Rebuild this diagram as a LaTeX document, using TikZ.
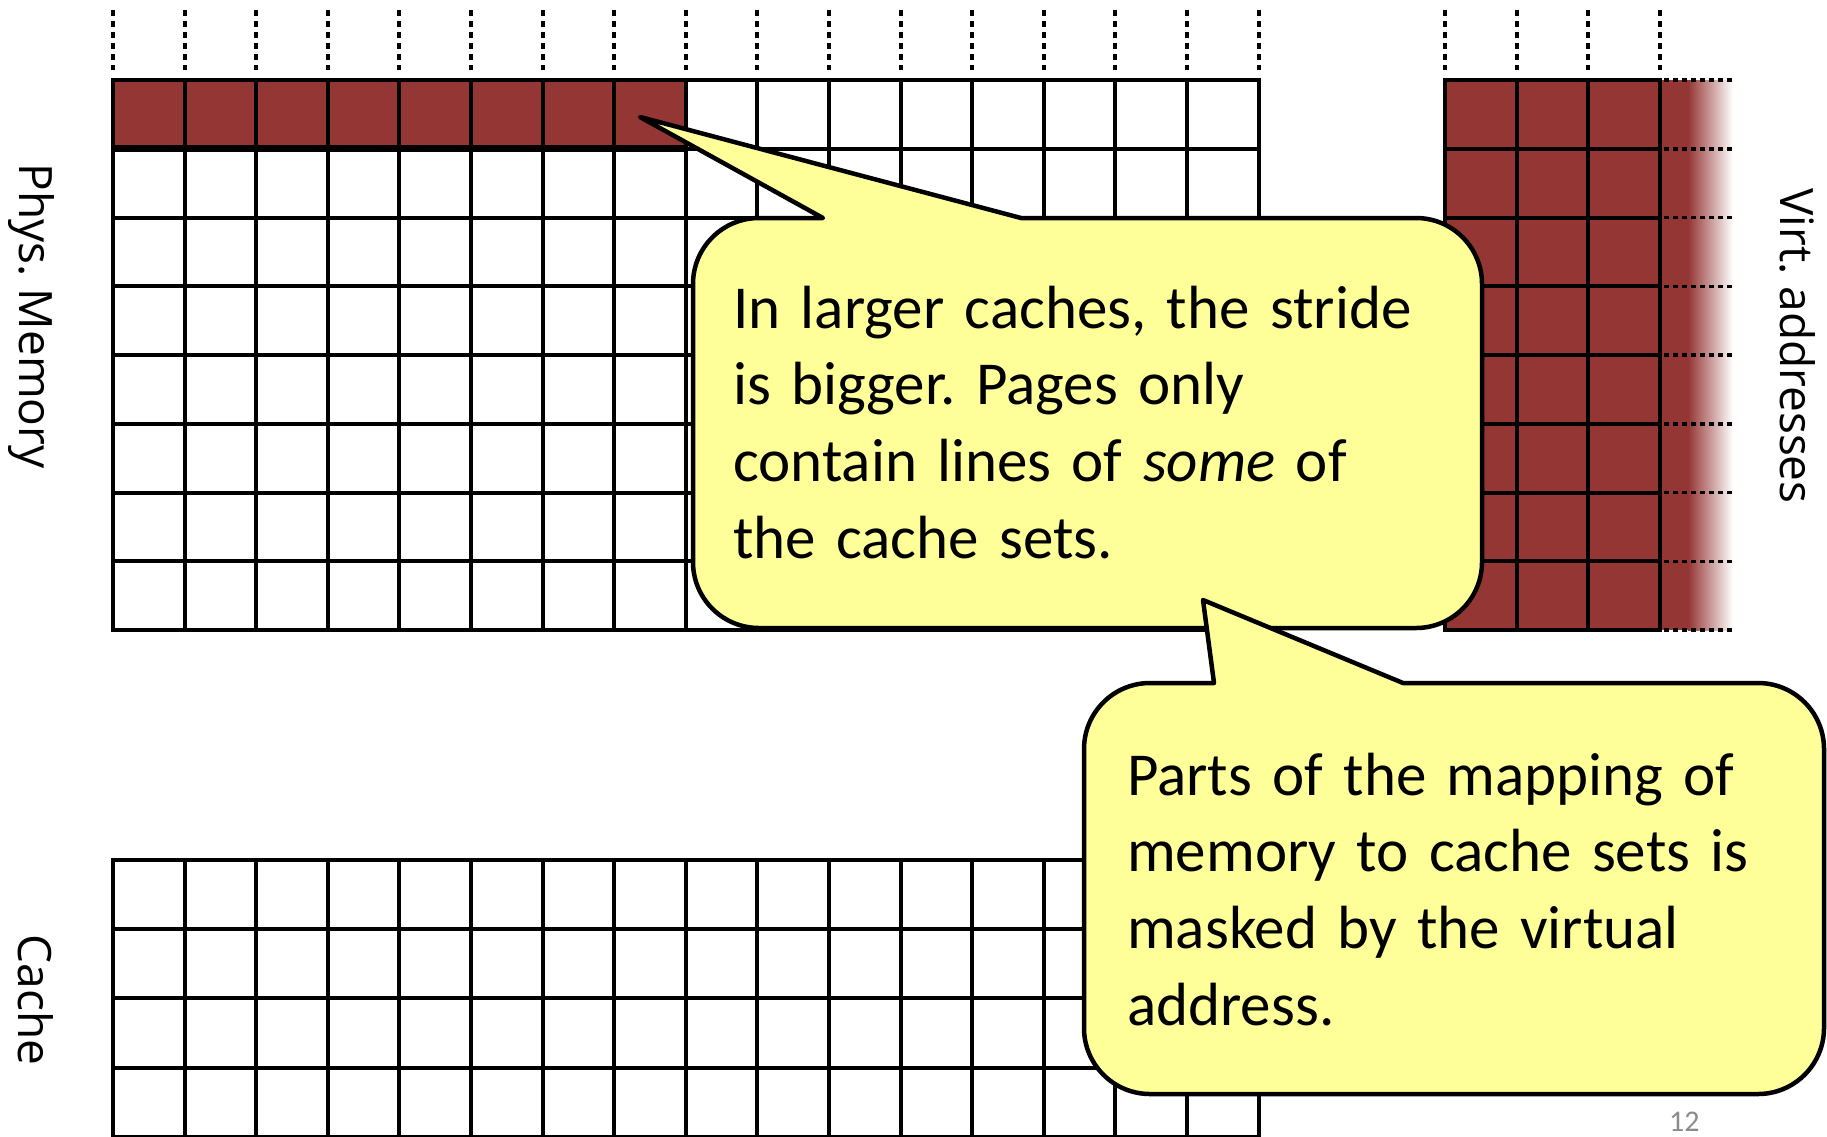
\documentclass[tikz,border=0pt]{standalone}
\usepackage{fontspec}
\setmainfont{Carlito}
\newfontfamily\labelfont{Open Sans}
\definecolor{cellred}{HTML}{943634}
\definecolor{calloutyellow}{HTML}{FFFF99}
\definecolor{pagegray}{HTML}{8C8C8C}
\frenchspacing
\tikzset{
  gridline/.style={line width=4pt, draw=black, line cap=rect},
  vdots/.style={line width=4pt, draw=black, dash pattern=on 6pt off 5pt},
  hdots/.style={line width=3.5pt, draw=black, dash pattern=on 5pt off 4pt},
  callout/.style={fill=calloutyellow, draw=black, line width=4.5pt, line join=round},
  ctext/.style={font=\fontsize{61}{76.7}\selectfont, text width=820pt, align=left, inner sep=0pt, anchor=base west},
  sidelabel/.style={font=\labelfont\fontsize{46}{55}\selectfont, rotate=-90, inner sep=0pt},
}
\begin{document}
\begin{tikzpicture}[x=1pt,y=-1pt]
\useasboundingbox (0,0) rectangle (1827,1136);
\fill[white] (0,0) rectangle (1827,1136);

% ---- physical memory grid ----
\fill[cellred] (113,80) rectangle (685.8,148.75);
\foreach \i in {0,...,16} \draw[gridline] ({113+\i*71.6},80) -- ({113+\i*71.6},630);
\foreach \j in {0,...,8} \draw[gridline] (113,{80+\j*68.75}) -- (1258.6,{80+\j*68.75});
\draw[line width=7pt] (113,148.75) -- (685.8,148.75);
\foreach \i in {0,...,16} \draw[vdots] ({113+\i*71.6},10) -- ({113+\i*71.6},70);

% ---- virtual address grid ----
\fill[cellred] (1445,80) rectangle (1688,630);
\shade[left color=cellred, right color=white] (1688,80) rectangle (1733,630);
\foreach \i in {0,...,3} \draw[gridline] ({1445+\i*71.67},80) -- ({1445+\i*71.67},630);
\foreach \j in {0,...,8} \draw[gridline] (1445,{80+\j*68.75}) -- (1660,{80+\j*68.75});
\foreach \j in {0,...,8} \draw[hdots] (1664,{80+\j*68.75}) -- (1733,{80+\j*68.75});
\foreach \i in {0,...,3} \draw[vdots] ({1445+\i*71.67},10) -- ({1445+\i*71.67},70);

% ---- cache grid ----
\foreach \i in {0,...,16} \draw[gridline] ({113+\i*71.6},860) -- ({113+\i*71.6},1145);
\foreach \j in {0,...,4} \draw[gridline] (113,{860+\j*69.2}) -- (1258.6,{860+\j*69.2});

% ---- side labels ----
\node[sidelabel] (phys) at (31,316) {Phys. Memory};
\node[sidelabel] (virt) at (1798,346) {Virt. addresses};
\node[sidelabel] (cache) at (36,1000) {Cache};

% ---- callout 1 ----
\draw[callout] (823,218) -- (640,117) -- (1021,218) -- (1416,218)
  .. controls (1452.45,218) and (1482,247.55) .. (1482,284) -- (1482,562)
  .. controls (1482,598.45) and (1452.45,628) .. (1416,628) -- (759,628)
  .. controls (722.55,628) and (693,598.45) .. (693,562) -- (693,284)
  .. controls (693,247.55) and (722.55,218) .. (759,218) -- cycle;
\node[ctext] (t1) at (733,328) {In larger caches, the stride\\ is bigger. Pages only\\ contain lines of \textit{some} of\\ the cache sets.};

% ---- callout 2 ----
\draw[callout] (1214,683) -- (1203,600) -- (1403,683) -- (1758,683)
  .. controls (1794.45,683) and (1824,712.55) .. (1824,749) -- (1824,1028)
  .. controls (1824,1064.45) and (1794.45,1094) .. (1758,1094) -- (1150,1094)
  .. controls (1113.55,1094) and (1084,1064.45) .. (1084,1028) -- (1084,749)
  .. controls (1084,712.55) and (1113.55,683) .. (1150,683) -- cycle;
\node[ctext] (t2) at (1127,795) {Parts of the mapping of\\ memory to cache sets is\\ masked by the virtual\\ address.};

% ---- page number ----
\node[font=\fontsize{30}{36}\selectfont, text=pagegray, anchor=base west, inner sep=0pt] (pg) at (1669,1131) {12};
\end{tikzpicture}
\end{document}
